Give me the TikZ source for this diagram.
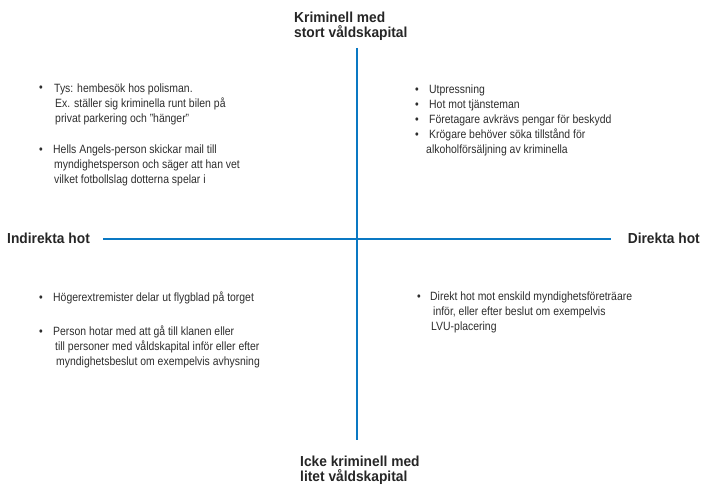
\documentclass[tikz,border=0pt]{standalone}
\usepackage{fontspec}
\setmainfont[FakeStretch=0.87]{Liberation Sans}
\newfontfamily\labelfont[FakeStretch=0.95]{Liberation Sans}
\definecolor{axisblue}{RGB}{10,120,195}
\definecolor{txt}{RGB}{45,45,45}
\begin{document}
\begin{tikzpicture}[x=1pt,y=-1pt,
  item/.style={anchor=base west, align=left, inner sep=0pt, font=\fontsize{12}{15}\selectfont, text=txt},
  dot/.style={anchor=base west, inner sep=0pt, font=\fontsize{12}{15}\selectfont, text=txt},
  axislabel/.style={inner sep=0pt, align=left, font=\labelfont\bfseries\fontsize{14.5}{15}\selectfont, text=black!85},
  axisline/.style={draw=axisblue, line width=1.8pt}]
\useasboundingbox (0,0) rectangle (702,487);
% axes
\coordinate (top) at (357,48);
\coordinate (bot) at (357,440);
\coordinate (lft) at (103,239);
\coordinate (rgt) at (611,239);
\draw[axisline] (top) -- (bot);
\draw[axisline] (lft) -- (rgt);
% axis labels (base = last line)
\node[axislabel, anchor=base west] (tl) at (294,37.7) {Kriminell med\\stort våldskapital};
\node[axislabel, anchor=base west] (bl) at (300,481.5) {Icke kriminell med\\litet våldskapital};
\node[axislabel, anchor=base west] (ll) at (7,243.5) {Indirekta hot};
\node[axislabel, anchor=base east] (rl) at (700,243.5) {Direkta hot};
% top-left
\node[dot] (d1) at (39,92) {•};
\node[item] (i1) at (54,122) {Tys: hembesök hos polisman.\\\hspace*{1pt}Ex. ställer sig kriminella runt bilen på\\\hspace*{1pt}privat parkering och "hänger"};
\node[dot] (d2) at (39,153) {•};
\node[item] (i2) at (53,183) {Hells Angels-person skickar mail till\\\hspace*{1pt}myndighetsperson och säger att han vet\\\hspace*{1pt}vilket fotbollslag dotterna spelar i};
% top-right
\node[dot] (d3) at (415,93) {•};
\node[item] (i3) at (429,93) {Utpressning};
\node[dot] (d4) at (415,108) {•};
\node[item] (i4) at (429,108) {Hot mot tjänsteman};
\node[dot] (d5) at (415,123.3) {•};
\node[item] (i5) at (429,123.3) {Företagare avkrävs pengar för beskydd};
\node[dot] (d6) at (415,138.5) {•};
\node[item] (i6) at (429,153.5) {Krögare behöver söka tillstånd för\\\hspace*{-3pt}alkoholförsäljning av kriminella};
% bottom-left
\node[dot] (d7) at (39,301) {•};
\node[item] (i7) at (53,301) {Högerextremister delar ut flygblad på torget};
\node[dot] (d8) at (39,335) {•};
\node[item] (i8) at (53,365) {Person hotar med att gå till klanen eller\\\hspace*{2pt}till personer med våldskapital inför eller efter\\\hspace*{3pt}myndighetsbeslut om exempelvis avhysning};
% bottom-right
\node[dot] (d9) at (417,300) {•};
\node[item] (i9) at (430,330) {Direkt hot mot enskild myndighetsföreträare\\\hspace*{3pt}inför, eller efter beslut om exempelvis\\\hspace*{1pt}LVU-placering};
\end{tikzpicture}
\end{document}
